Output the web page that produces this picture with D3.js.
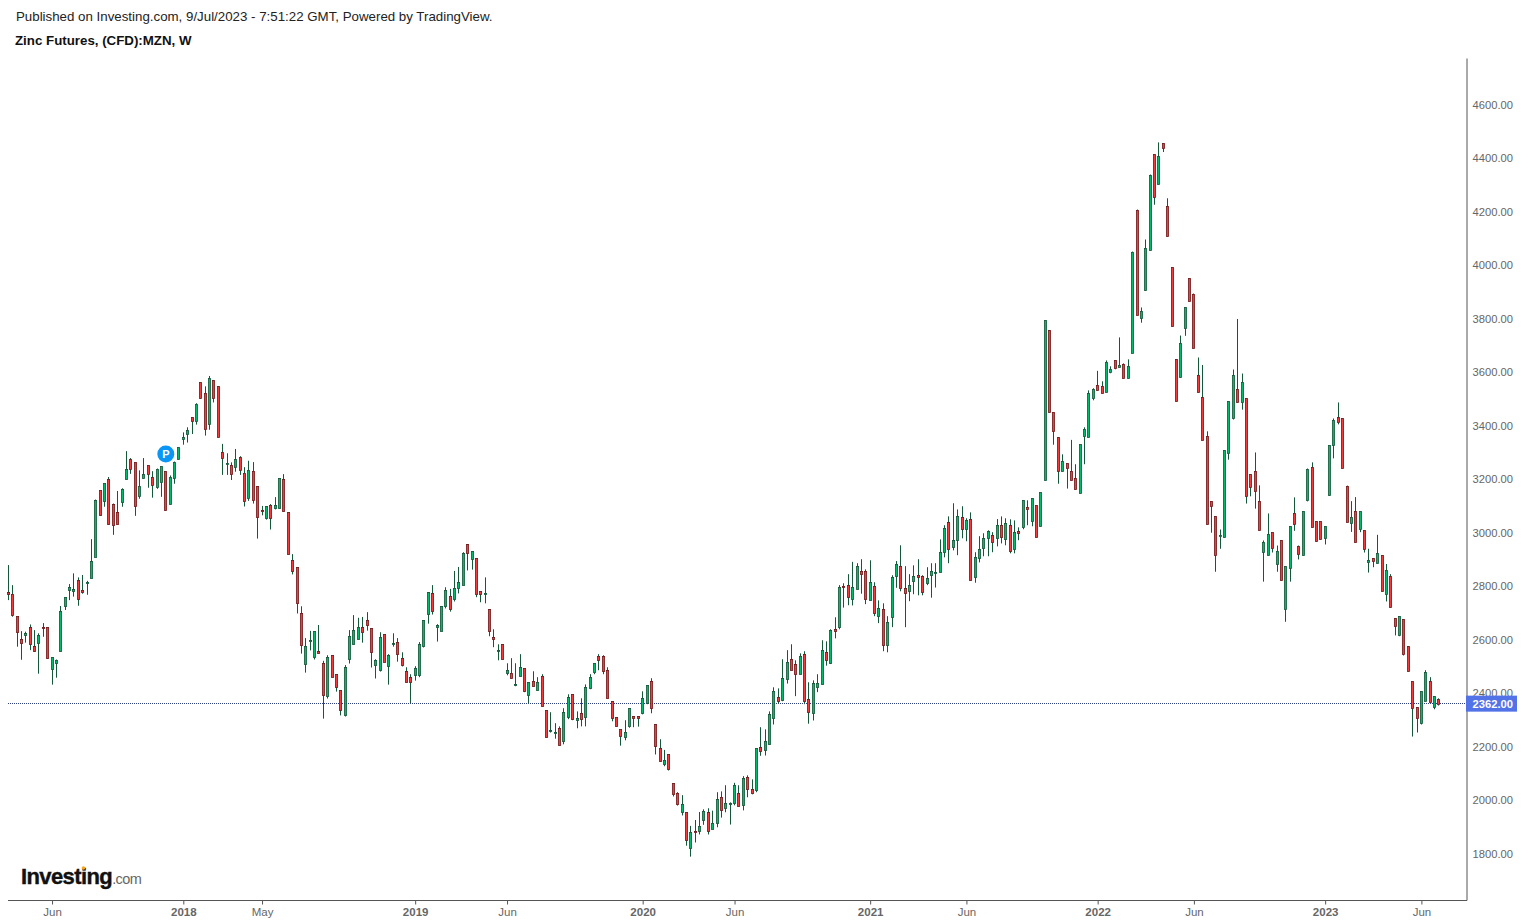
<!DOCTYPE html>
<html>
<head>
<meta charset="utf-8">
<style>
  html, body { margin: 0; padding: 0; background: #fff; overflow: hidden; }
  svg { display: block; }
  text { font-family: "Liberation Sans", Arial, sans-serif; }
</style>
<script src="https://cdn.jsdelivr.net/npm/d3@7"></script>
</head>
<body>
<script>
// weekly bars (first week 27 Mar 2017, last week 3 Jul 2023)
const opens = [
  2780,2770,2688,2602,2616,2647,2576,2586,2647,2647,
  2489,2516,2557,2724,2784,2780,2826,2785,2813,2833,
  2911,3159,3117,3200,3110,3077,3113,3200,3275,3264,
  3135,3204,3253,3211,3169,3189,3230,3107,3208,3275,
  3349,3369,3432,3416,3563,3522,3406,3571,3548,3302,
  3258,3253,3245,3283,3223,3132,3231,3175,3087,3054,
  3104,3091,3091,3201,3078,2898,2872,2700,2508,2597,
  2534,2558,2513,2389,2543,2472,2412,2318,2527,2584,
  2605,2648,2674,2644,2504,2486,2622,2501,2586,2592,
  2532,2483,2461,2467,2467,2575,2696,2775,2648,2633,
  2726,2764,2751,2793,2805,2958,2902,2905,2782,2772,
  2715,2610,2558,2584,2476,2476,2431,2464,2494,2393,
  2446,2412,2464,2337,2261,2251,2270,2221,2311,2397,
  2300,2326,2311,2420,2479,2539,2539,2487,2371,2311,
  2266,2236,2277,2315,2315,2326,2363,2446,2285,2195,
  2135,2173,2064,2027,1956,1956,1820,1886,1885,1926,
  1956,1893,1915,2012,1971,1989,1990,2027,1982,2087,
  2042,2038,2199,2188,2210,2307,2386,2375,2453,2528,
  2509,2473,2547,2378,2326,2423,2434,2554,2513,2640,
  2646,2801,2805,2752,2790,2857,2857,2748,2801,2689,
  2715,2580,2685,2838,2876,2793,2782,2819,2842,2838,
  2812,2842,2852,2853,2928,3040,2946,2973,3059,3014,
  3051,2833,2905,2943,2980,2991,2980,3029,2976,3029,
  2939,3006,3021,3096,3044,3103,3025,3197,3758,3451,
  3358,3231,3260,3231,3204,3148,3361,3358,3503,3552,
  3548,3526,3601,3645,3619,3631,3578,3675,4209,3802,
  3909,4060,4415,4307,4456,4221,3993,3649,3581,3765,
  3952,3895,3589,3510,3361,3118,3062,2992,2983,3297,
  3428,3537,3492,3503,3219,3230,3118,2931,2916,3002,
  2882,2972,2714,2867,3073,2953,2916,3125,3245,3043,
  3043,2980,3140,3327,3433,3429,3177,3036,3081,3014,
  3010,2891,2906,2887,2917,2770,2838,2681,2618,2678,
  2577,2446,2349,2288,2371,2446,2349,2379
];
const highs = [
  2880,2805,2688,2633,2631,2658,2637,2625,2663,2647,
  2535,2527,2727,2759,2809,2849,2834,2843,2821,2977,
  3125,3159,3185,3209,3110,3157,3167,3306,3280,3264,
  3234,3280,3253,3231,3241,3249,3230,3215,3267,3320,
  3376,3395,3432,3485,3563,3548,3587,3571,3548,3333,
  3298,3264,3314,3287,3246,3270,3265,3175,3101,3100,
  3108,3134,3205,3220,3078,2921,2872,2726,2607,2634,
  2633,2656,2522,2543,2543,2472,2412,2506,2637,2693,
  2683,2686,2704,2644,2528,2629,2622,2547,2625,2607,
  2554,2498,2472,2502,2592,2674,2779,2805,2659,2726,
  2797,2791,2858,2873,2928,2958,2932,2905,2782,2834,
  2715,2640,2584,2584,2513,2532,2513,2547,2494,2442,
  2483,2461,2472,2337,2330,2289,2277,2345,2397,2397,
  2333,2382,2434,2472,2513,2547,2543,2498,2371,2311,
  2266,2300,2345,2315,2315,2408,2431,2457,2285,2229,
  2189,2173,2064,2031,2020,1956,1905,1927,1957,1967,
  1971,1962,2031,2034,2057,1993,2066,2057,2091,2094,
  2079,2195,2274,2266,2333,2423,2419,2528,2562,2584,
  2524,2550,2558,2442,2449,2472,2599,2595,2640,2685,
  2805,2812,2846,2892,2887,2902,2864,2898,2816,2748,
  2737,2689,2842,2895,2954,2876,2846,2879,2902,2842,
  2872,2887,2887,2976,3029,3062,3111,3088,3100,3055,
  3077,2928,2988,2999,3010,3003,3052,3062,3055,3051,
  3047,3021,3122,3122,3130,3103,3152,3795,3758,3451,
  3358,3294,3260,3348,3257,3331,3395,3533,3541,3606,
  3567,3645,3623,3645,3731,3634,3649,4052,4209,3843,
  4097,4340,4415,4460,4456,4251,3993,3649,3738,3843,
  3952,3895,3656,3628,3380,3118,3062,3013,3309,3492,
  3611,3800,3596,3503,3219,3301,3178,2972,3073,3002,
  2953,2972,2875,3025,3133,2953,3081,3241,3264,3043,
  3043,3025,3327,3428,3488,3429,3177,3119,3134,3081,
  3010,2941,2906,2993,2917,2884,2846,2681,2689,2678,
  2577,2446,2349,2408,2487,2461,2390,2382
];
const lows = [
  2749,2687,2575,2526,2590,2562,2556,2474,2612,2530,
  2433,2459,2557,2712,2749,2762,2728,2773,2769,2833,
  2911,3064,3098,3031,2993,3031,3098,3200,3221,3064,
  3128,3204,3169,3132,3165,3135,3084,3107,3184,3275,
  3330,3338,3370,3405,3502,3364,3386,3488,3358,3217,
  3217,3198,3229,3217,3099,3120,3110,2979,3066,3050,
  3013,3088,3091,3081,2921,2845,2699,2549,2478,2561,
  2527,2551,2306,2381,2461,2407,2318,2314,2512,2584,
  2602,2590,2635,2497,2456,2482,2519,2433,2575,2519,
  2501,2442,2364,2448,2461,2572,2661,2695,2594,2633,
  2718,2706,2744,2774,2805,2860,2863,2760,2741,2737,
  2614,2573,2524,2528,2468,2457,2427,2464,2405,2363,
  2427,2412,2352,2236,2254,2231,2206,2210,2304,2300,
  2270,2277,2277,2416,2472,2487,2472,2382,2296,2277,
  2205,2225,2272,2274,2276,2322,2360,2326,2172,2145,
  2128,2112,2015,1981,1944,1831,1790,1843,1873,1909,
  1873,1893,1900,1936,1956,1910,1982,1978,1963,2012,
  2023,2031,2167,2168,2210,2284,2363,2371,2437,2487,
  2390,2473,2360,2287,2299,2405,2434,2504,2510,2606,
  2640,2721,2730,2729,2790,2773,2734,2748,2689,2663,
  2558,2554,2648,2795,2782,2648,2745,2771,2767,2767,
  2805,2758,2796,2853,2909,2887,2935,2917,2980,2969,
  2823,2814,2890,2913,2913,2928,2950,2961,2954,2924,
  2924,2973,3014,3029,3025,2984,3025,3197,3451,3330,
  3184,3231,3166,3197,3163,3148,3257,3358,3496,3533,
  3522,3526,3597,3612,3619,3578,3578,3675,3817,3786,
  3905,4060,4227,4303,4424,4109,3772,3492,3581,3737,
  3866,3694,3525,3350,3032,3001,2855,2941,2983,3274,
  3424,3488,3461,3110,3137,3091,3010,2818,2916,2927,
  2855,2823,2668,2818,3008,2901,2916,3118,3021,2968,
  2976,2957,3140,3279,3406,3242,3044,3004,2965,3003,
  2927,2852,2872,2887,2782,2744,2722,2617,2614,2542,
  2483,2239,2254,2284,2371,2367,2341,2355
];
const closes = [
  2773,2691,2627,2587,2625,2582,2557,2617,2642,2530,
  2535,2527,2707,2759,2797,2789,2754,2777,2816,2897,
  3125,3064,3185,3031,3031,3031,3163,3238,3238,3098,
  3174,3219,3219,3180,3238,3249,3084,3208,3267,3320,
  3358,3384,3416,3481,3502,3388,3578,3503,3358,3278,
  3261,3219,3275,3234,3117,3235,3122,3058,3083,3100,
  3054,3104,3205,3081,2921,2857,2737,2580,2577,2600,
  2633,2551,2392,2536,2461,2422,2336,2498,2614,2637,
  2648,2629,2655,2553,2524,2610,2519,2543,2589,2547,
  2504,2442,2442,2494,2584,2674,2779,2706,2655,2726,
  2786,2714,2793,2816,2924,2924,2932,2771,2771,2775,
  2633,2603,2562,2528,2487,2457,2434,2498,2408,2442,
  2427,2442,2352,2236,2264,2255,2206,2330,2386,2304,
  2307,2304,2423,2461,2513,2524,2483,2382,2307,2277,
  2240,2255,2345,2307,2307,2382,2431,2345,2203,2145,
  2150,2116,2022,1985,1986,1850,1881,1884,1904,1960,
  1884,1915,2005,1963,1990,1991,2057,1978,2083,2042,
  2027,2195,2184,2221,2322,2408,2371,2457,2517,2487,
  2472,2539,2370,2330,2438,2438,2562,2524,2636,2633,
  2797,2797,2760,2797,2876,2846,2752,2816,2700,2719,
  2580,2666,2834,2883,2793,2775,2805,2838,2834,2778,
  2831,2857,2855,2928,3018,2939,2973,3062,3014,3047,
  2823,2909,2939,2980,3006,2965,3029,2984,3036,2932,
  3003,2999,3122,3089,3130,2984,3152,3795,3451,3380,
  3231,3268,3242,3197,3163,3331,3388,3522,3537,3533,
  3522,3638,3612,3616,3627,3578,3623,4052,3817,3828,
  4067,4340,4254,4411,4437,4109,3772,3492,3709,3843,
  3866,3694,3525,3350,3032,3099,2916,2994,3309,3492,
  3589,3488,3566,3137,3170,3155,3010,2968,2995,2942,
  2931,2823,2875,3025,3032,2924,3081,3241,3021,2968,
  2976,3025,3327,3421,3414,3242,3044,3059,2965,3081,
  2939,2898,2894,2924,2782,2861,2722,2651,2689,2549,
  2483,2345,2308,2408,2480,2367,2390,2362
];

const priceTicks = [1800,2000,2200,2400,2600,2800,3000,3200,3400,3600,3800,4000,4200,4400,4600];
const timeTicks = ["2017-06-05","2018-01-01","2018-05-07","2019-01-07","2019-06-03","2020-01-06","2020-06-01","2021-01-04","2021-06-07","2022-01-03","2022-06-06","2023-01-02","2023-06-05"];
const timeLabels = ["Jun","2018","May","2019","Jun","2020","Jun","2021","Jun","2022","Jun","2023","Jun"];
const lastPrice = 2362;
const markerWeek = 36;

const weeks = opens.map((d, i) => d3.utcWeek.offset(new Date(Date.UTC(2017, 2, 27)), i));
const bars = opens.map((d, i) => ({week: weeks[i], open: d, high: highs[i], low: lows[i], close: closes[i]}));

const canevas = d3.select("body")
    .append("svg")
    .attr("width", 1530)
    .attr("height", 924);

canevas.append("rect")
    .attr("width", 1530)
    .attr("height", 924)
    .attr("fill", "#fff");

// echelles
const x = d3.scaleUtc()
    .domain([weeks[0], weeks[weeks.length - 1]])
    .range([8.3, 1438.9]);
const y = d3.scaleLinear()
    .domain([1628, 4775.5])
    .range([900, 58]);
const snap = v => Math.floor(v) + 0.5;

// titres
canevas.append("text")
    .attr("x", 16)
    .attr("y", 21)
    .style("font-size", "13.3px")
    .style("fill", "#222")
    .text("Published on Investing.com, 9/Jul/2023 - 7:51:22 GMT, Powered by TradingView.");
canevas.append("text")
    .attr("x", 15)
    .attr("y", 45)
    .style("font-size", "13.3px")
    .style("font-weight", "bold")
    .style("fill", "#111")
    .text("Zinc Futures, (CFD):MZN, W");

// axes
const axeY = canevas.append("g")
    .attr("transform", "translate(1466.5,0)")
    .call(d3.axisRight(y)
        .tickValues(priceTicks)
        .tickSize(0)
        .tickPadding(6)
        .tickFormat(d3.format(".2f")));
axeY.select(".domain").attr("stroke", "#555");
axeY.selectAll("text")
    .attr("dy", "0.3em")
    .style("font-size", "11.2px")
    .style("fill", "#666");

const axeX = canevas.append("g")
    .attr("transform", "translate(0,900.5)")
    .call(d3.axisBottom(x)
        .tickValues(timeTicks.map(d => new Date(d + "T00:00:00Z")))
        .tickSize(4)
        .tickPadding(3)
        .tickFormat((d, i) => timeLabels[i]));
axeX.select(".domain").remove();
axeX.selectAll("line").attr("stroke", "#555");
axeX.selectAll("text")
    .style("font-size", "11.5px")
    .style("fill", "#666")
    .style("font-weight", (d, i) => /^\d/.test(timeLabels[i]) ? "bold" : "normal");
canevas.append("line")
    .attr("x1", 8)
    .attr("x2", 1467)
    .attr("y1", 900.5)
    .attr("y2", 900.5)
    .attr("stroke", "#555");

// ligne du dernier prix
canevas.append("line")
    .attr("x1", 8)
    .attr("x2", 1466)
    .attr("y1", snap(y(lastPrice)))
    .attr("y2", snap(y(lastPrice)))
    .attr("stroke", "#2f3f7a")
    .attr("stroke-dasharray", "1,1");

// bougies
const bougies = canevas.append("g");
bougies.selectAll("line")
    .data(bars)
    .join("line")
    .attr("x1", d => snap(x(d.week)))
    .attr("x2", d => snap(x(d.week)))
    .attr("y1", d => y(d.high))
    .attr("y2", d => y(d.low))
    .attr("stroke", "#15573a");
bougies.selectAll("rect")
    .data(bars)
    .join("rect")
    .attr("x", d => snap(x(d.week)) - 1.1)
    .attr("width", 2.2)
    .attr("y", d => Math.round(y(Math.max(d.open, d.close))) + 0.5)
    .attr("height", d => Math.max(1, Math.round(y(Math.min(d.open, d.close)) - y(Math.max(d.open, d.close)))))
    .attr("fill", d => d.close >= d.open ? "#00bc66" : "#f83a3a")
    .attr("stroke", d => d.close >= d.open ? "#15573a" : "#6e1a1a")
    .attr("stroke-width", 0.8);

// etiquette du dernier prix
canevas.append("rect")
    .attr("x", 1466)
    .attr("y", y(lastPrice) - 8)
    .attr("width", 51)
    .attr("height", 16)
    .attr("fill", "#5273e8");
canevas.append("text")
    .attr("x", 1472.5)
    .attr("y", y(lastPrice) + 4)
    .style("font-size", "11.2px")
    .style("font-weight", "bold")
    .style("fill", "#fff")
    .text(d3.format(".2f")(lastPrice));

// pastille P
canevas.append("circle")
    .attr("cx", x(weeks[markerWeek]))
    .attr("cy", 454)
    .attr("r", 8.5)
    .attr("fill", "#0a96f5");
canevas.append("text")
    .attr("x", x(weeks[markerWeek]))
    .attr("y", 458)
    .attr("text-anchor", "middle")
    .style("font-size", "11px")
    .style("font-weight", "bold")
    .style("fill", "#fff")
    .text("P");

// logo
const logo = canevas.append("text")
    .attr("x", 21)
    .attr("y", 884)
    .style("letter-spacing", "-0.6px");
logo.append("tspan")
    .style("font-size", "22px")
    .style("font-weight", "bold")
    .style("fill", "#111")
    .style("stroke", "#111")
    .style("stroke-width", "0.4px")
    .text("Investing");
logo.append("tspan")
    .style("font-size", "14.5px")
    .style("fill", "#666")
    .text(".com");
canevas.append("circle")
    .attr("cx", 83.5)
    .attr("cy", 868)
    .attr("r", 1.8)
    .attr("fill", "#f5a623");
</script>
</body>
</html>
